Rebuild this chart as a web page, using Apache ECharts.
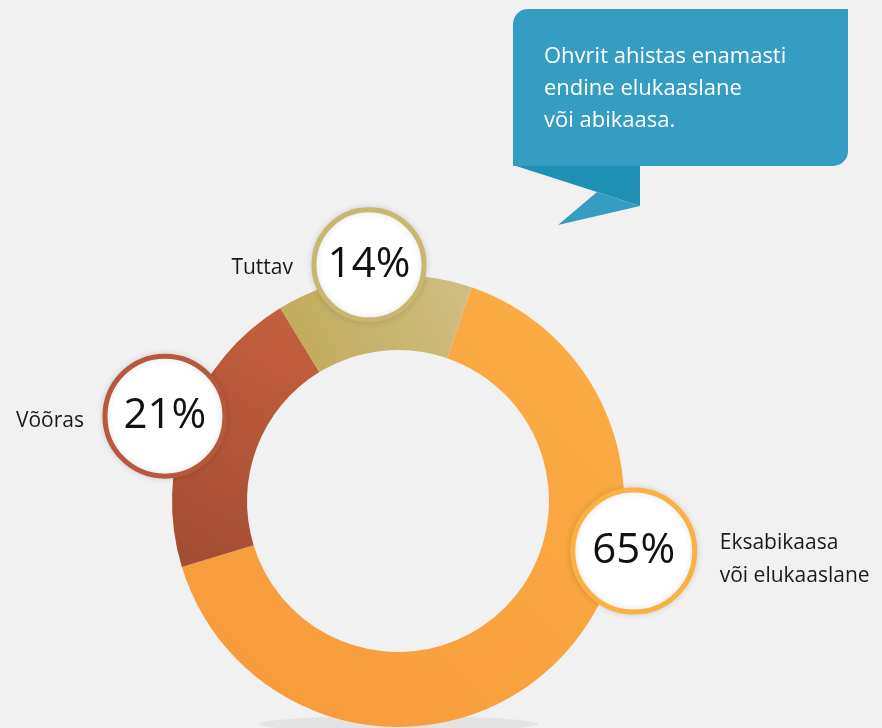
<!DOCTYPE html>
<html>
<head>
<meta charset="utf-8">
<style>
  html, body { margin: 0; padding: 0; background: #f1f1f1; }
  #chart { width: 882px; height: 728px; }
</style>
<script src="https://cdn.jsdelivr.net/npm/echarts@6/dist/echarts.min.js"></script>
</head>
<body>
<div id="chart"></div>
<script>
// andmed
const categories = ['Eksabikaasa\nvõi elukaaslane', 'Võõras', 'Tuttav'];
const shares = [65, 21, 14];
// märgiste asukoht ringil (kraadid päripäeva ülevalt, raadius px)
const badgeAngles = [102, 290, 353];
const badgeRadius = [241, 248, 238];
const badgeSizes = [122, 120, 110];
const labelSides = ['right', 'left', 'left'];
const labelShift = [[4, 8], [0, 5], [0, 3]];

const sliceColors = [
    ['#fbae44', '#f8983c'],
    ['#c6603f', '#a24c32'],
    ['#d0bf86', '#bfa955']
];
const badgeBorders = ['#fbb042', '#b9573b', '#c8b76f'];

const FONT = '"Open Sans", sans-serif';

const myChart = echarts.init(document.getElementById('chart'));

const pieData = categories.map((c, i) => ({
    name: c,
    value: shares[i],
    itemStyle: {
        color: new echarts.graphic.LinearGradient(1, 0, 0, 1, [
            { offset: 0, color: sliceColors[i][0] },
            { offset: 1, color: sliceColors[i][1] }
        ])
    }
}));

const badgeData = categories.map((c, i) => ({
    name: c,
    value: [badgeRadius[i], badgeAngles[i], shares[i]],
    symbolSize: badgeSizes[i],
    itemStyle: { borderColor: badgeBorders[i] }
}));

const nameData = categories.map((c, i) => ({
    name: c,
    value: [badgeRadius[i], badgeAngles[i]],
    symbolSize: badgeSizes[i],
    label: { position: labelSides[i], offset: labelShift[i] }
}));

const option = {
    backgroundColor: '#f1f1f1',
    animation: false,
    polar: { center: [398, 501], radius: 260 },
    angleAxis: {
        type: 'value', min: 0, max: 360, startAngle: 90, clockwise: true,
        show: false, axisLine: { show: false }, splitLine: { show: false }
    },
    radiusAxis: {
        type: 'value', min: 0, max: 260, show: false,
        axisLine: { show: false }, splitLine: { show: false }
    },
    graphic: [
        {
            type: 'ellipse', z: 0,
            shape: { cx: 398, cy: 724, rx: 140, ry: 8 },
            style: { fill: 'rgba(0,0,0,0.05)', shadowBlur: 30, shadowColor: 'rgba(0,0,0,0.3)' }
        },
        {
            type: 'polygon', z: 10,
            shape: { points: [[513, 165], [640, 165], [640, 206], [597, 192]] },
            style: { fill: '#1e90b4' }
        },
        {
            type: 'polygon', z: 10,
            shape: { points: [[597, 192], [640, 206], [558, 225]] },
            style: { fill: '#369dc2' }
        },
        {
            type: 'rect', z: 11,
            shape: { x: 513, y: 9, width: 335, height: 157, r: [15, 0, 15, 0] },
            style: { fill: '#369dc2' }
        },
        {
            type: 'text', z: 12, left: 544, top: 41,
            style: {
                text: 'Ohvrit ahistas enamasti\nendine elukaaslane\nvõi abikaasa.',
                fill: '#ffffff', font: '22px ' + FONT, lineHeight: 32
            }
        }
    ],
    series: [
        {
            type: 'pie',
            center: [398, 501],
            radius: [151, 226],
            startAngle: 71,
            clockwise: true,
            label: { show: false },
            labelLine: { show: false },
            itemStyle: { borderWidth: 0 },
            emphasis: { disabled: true },
            data: pieData,
            z: 2
        },
        {
            type: 'scatter',
            coordinateSystem: 'polar',
            symbol: 'circle',
            itemStyle: {
                color: '#ffffff', borderWidth: 5, opacity: 1,
                shadowBlur: 6, shadowColor: 'rgba(0,0,0,0.12)'
            },
            label: {
                show: true, position: 'inside',
                formatter: p => p.value[2] + '%',
                color: '#111', fontSize: 42, fontFamily: FONT
            },
            emphasis: { disabled: true },
            data: badgeData,
            z: 5
        },
        {
            type: 'scatter',
            coordinateSystem: 'polar',
            symbol: 'circle',
            itemStyle: { color: 'rgba(0,0,0,0)', opacity: 1 },
            label: {
                show: true, distance: 21,
                formatter: p => p.name,
                color: '#1a1a1a', fontSize: 21, lineHeight: 33, fontFamily: FONT
            },
            emphasis: { disabled: true },
            data: nameData,
            z: 4
        }
    ]
};

myChart.setOption(option);
</script>
</body>
</html>
